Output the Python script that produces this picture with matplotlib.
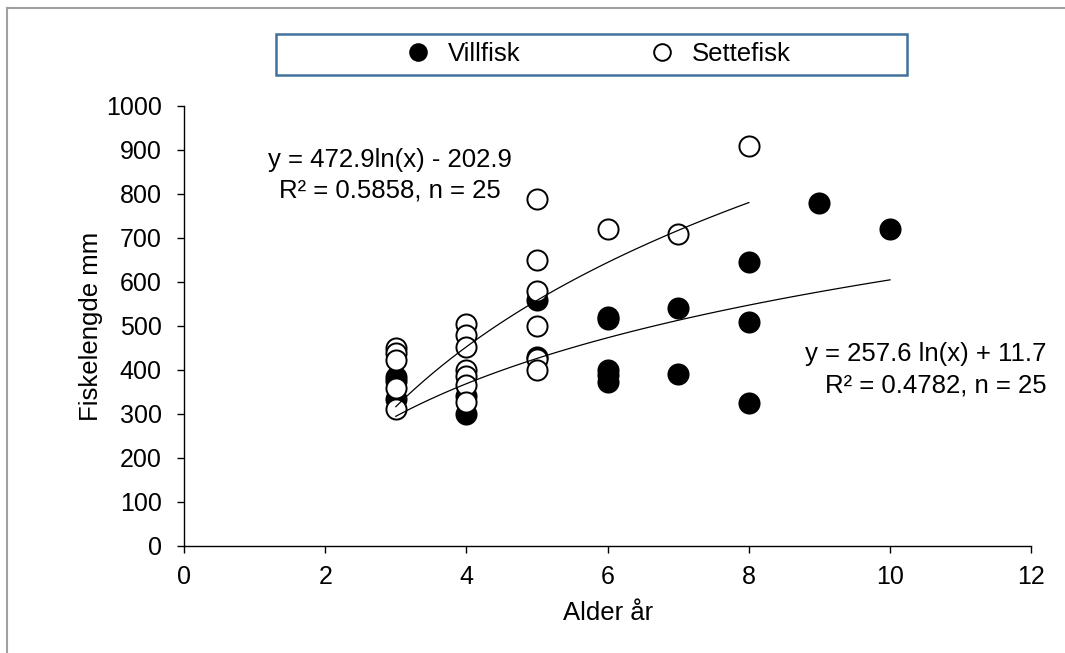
import numpy as np
import matplotlib.pyplot as plt
from matplotlib.patches import Rectangle
from matplotlib.lines import Line2D

plt.rcParams['font.family'] = ['Liberation Sans', 'DejaVu Sans']

# Villfisk (wild fish): age and length
vill_alder = [3, 3, 3, 4, 4, 5, 5, 6, 6, 6, 6, 6, 7, 7, 8, 8, 8, 9, 10]
vill_lengde = [383, 375, 335, 340, 300, 560, 430, 520, 515, 400, 388, 372,
               540, 390, 645, 510, 325, 780, 720]

# Settefisk (stocked fish): age and length
sette_alder = [3, 3, 3, 3, 3, 4, 4, 4, 4, 4, 4, 4, 5, 5, 5, 5, 5, 5, 6, 7, 8]
sette_lengde = [450, 438, 422, 360, 312, 505, 480, 452, 400, 386, 366, 327,
                788, 650, 580, 500, 425, 400, 720, 710, 910]

# logarithmic trend lines: y = a*ln(x) + b
sette_a, sette_b = 472.9, -202.9
vill_a, vill_b = 257.6, 11.7

fig = plt.figure(figsize=(10.65, 6.53), dpi=100)
ax = fig.add_axes([0.1728, 0.1639, 0.7955, 0.6738])

ms = 14.5
ax.plot(vill_alder, vill_lengde, 'o', ms=ms, mfc='black', mec='black',
        mew=1.4, ls='none', zorder=3)
ax.plot(sette_alder, sette_lengde, 'o', ms=ms, mfc='white', mec='black',
        mew=1.4, ls='none', zorder=4)

xs = np.linspace(3, 8, 100)
ax.plot(xs, sette_a * np.log(xs) + sette_b, color='black', lw=0.9, zorder=5)
xv = np.linspace(3, 10, 100)
ax.plot(xv, vill_a * np.log(xv) + vill_b, color='black', lw=0.9, zorder=5)

fs = 18.5
tfs = 18
ax.text(2.92, 877, f"y = {sette_a}ln(x) - {abs(sette_b)}", ha='center',
        va='center', fontsize=fs)
ax.text(2.92, 807, "R² = 0.5858, n = 25", ha='center', va='center', fontsize=fs)
ax.text(10.51, 436, f"y = {vill_a} ln(x) + {vill_b}", ha='center',
        va='center', fontsize=fs)
ax.text(10.65, 364, "R² = 0.4782, n = 25", ha='center', va='center', fontsize=fs)

ax.set_xlim(0, 12)
ax.set_ylim(0, 1000)
ax.set_xticks(np.arange(0, 13, 2))
ax.set_yticks(np.arange(0, 1001, 100))
ax.tick_params(direction='out', length=5, width=1, labelsize=tfs)
ax.tick_params(axis='x', pad=9)
ax.tick_params(axis='y', pad=11)
for s in ['top', 'right']:
    ax.spines[s].set_visible(False)
for s in ['left', 'bottom']:
    ax.spines[s].set_linewidth(1)

ax.set_xlabel("Alder år", fontsize=fs, labelpad=8)
ax.set_ylabel("Fiskelengde mm", fontsize=fs, labelpad=2)

# outer chart border (top and left edges only)
fig.add_artist(Line2D([7 / 1065, 7 / 1065], [0, 1 - 8 / 653],
                      transform=fig.transFigure, color='#a0a0a0', lw=1.5))
fig.add_artist(Line2D([7 / 1065, 1], [1 - 8 / 653, 1 - 8 / 653],
                      transform=fig.transFigure, color='#a0a0a0', lw=1.5))

# legend frame
fig.add_artist(Rectangle((276 / 1065, 1 - 75 / 653), 631 / 1065, 41 / 653,
                         transform=fig.transFigure, fill=False,
                         edgecolor='#41719C', lw=1.8))
handles = [
    Line2D([], [], marker='o', ls='none', ms=12, mfc='black', mec='black', mew=1.4),
    Line2D([], [], marker='o', ls='none', ms=12, mfc='white', mec='black', mew=1.4),
]
fig.legend(handles, ['Villfisk', 'Settefisk'], loc='center',
           bbox_to_anchor=(598 / 1065, 1 - 54 / 653), ncol=2, frameon=False,
           fontsize=fs, handlelength=1, handletextpad=0.67, columnspacing=5.0)

fig.savefig('out.png', dpi=100)
